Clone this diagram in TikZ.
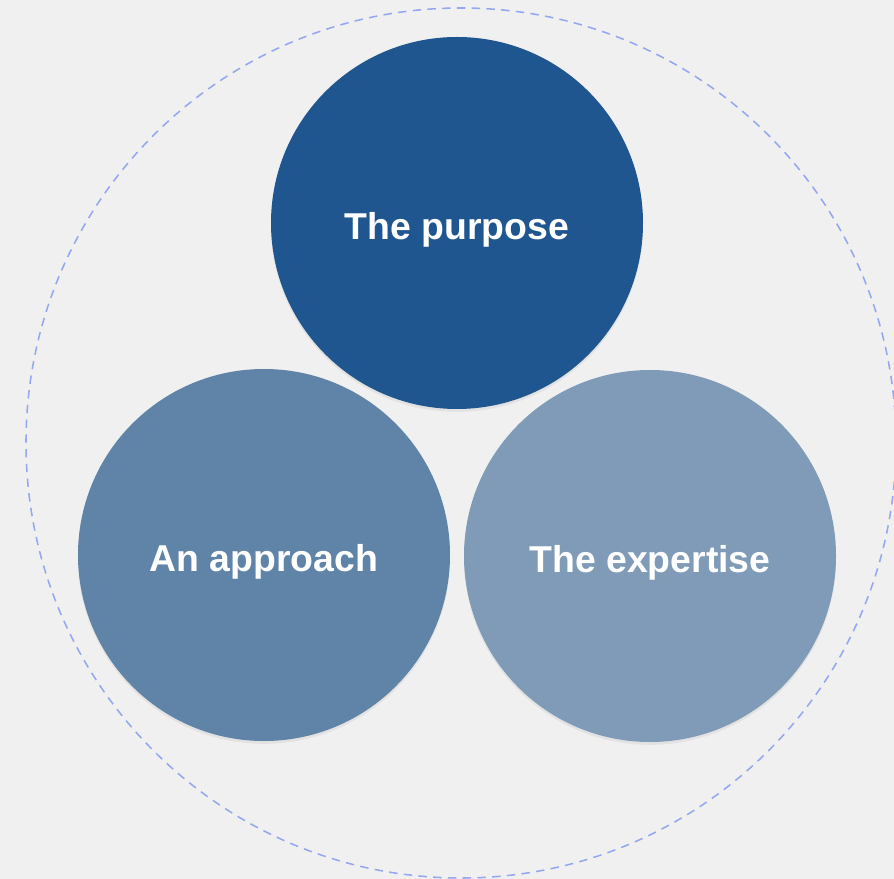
\documentclass[tikz,border=0pt]{standalone}
\usepackage{fontspec}
\setmainfont{Liberation Sans}
\usepackage{tikz}
\usetikzlibrary{positioning,shadows}
\definecolor{bgray}{HTML}{F0F0F0}
\definecolor{ringblue}{HTML}{94A8F0}
\definecolor{darkblue}{HTML}{1F5690}
\definecolor{midblue}{HTML}{6084A8}
\definecolor{paleblue}{HTML}{7F9BB8}

\begin{document}
\begin{tikzpicture}[every node/.style={circle, minimum size=9.3cm, inner sep=0pt, text height=0.84cm, text depth=0cm, text=white, font=\bfseries\fontsize{26.6}{30}\selectfont, drop shadow={opacity=0.12, shadow xshift=0pt, shadow yshift=-2pt}}]
   \fill[bgray] (-11.525,11.075) rectangle (10.825,-10.9);
   \useasboundingbox (-11.525,11.075) rectangle (10.825,-10.9);
   \clip (-11.525,11.075) rectangle (10.825,-10.9);
   \draw[ringblue, dash pattern=on 6pt off 4.5pt, line width=1.1pt] (0,0) circle (10.875);
   \node[fill=darkblue] (purpose) at (-0.1, 5.5) {The purpose};
   \node[fill=midblue] (approach) at (-4.925, -2.8) {An approach};
   \node[fill=paleblue] (expertise) at (4.725, -2.825) {The expertise};
\end{tikzpicture}
\end{document}
